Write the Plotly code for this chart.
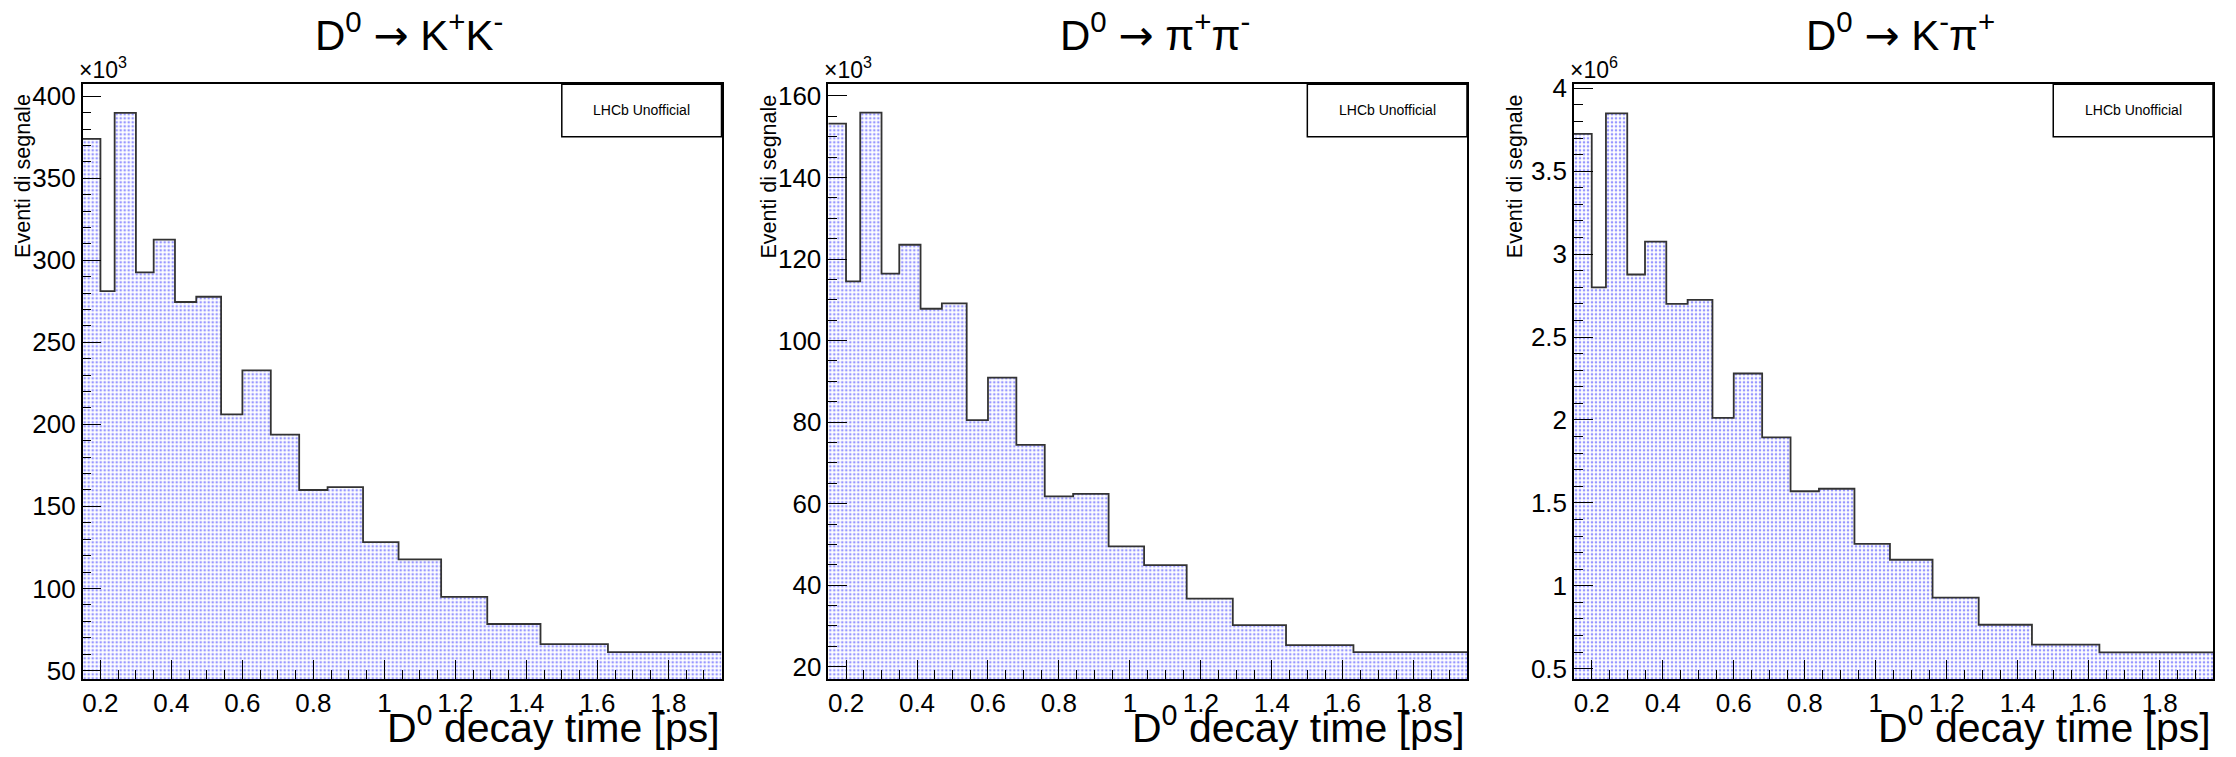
import plotly.graph_objects as go

# ---------------- data ----------------
bin_edges = [0.15, 0.20, 0.24, 0.30, 0.35, 0.41, 0.47, 0.54, 0.60, 0.68,
             0.76, 0.84, 0.94, 1.04, 1.16, 1.29, 1.44, 1.63, 1.95]

kk_counts_e3 = [374.1, 281.2, 389.9, 292.7, 312.6, 274.6, 277.8, 206.1, 232.9,
                193.8, 160.0, 161.8, 128.2, 117.7, 94.8, 78.3, 66.0, 61.1]
pipi_counts_e3 = [153.2, 114.5, 155.9, 116.4, 123.5, 107.8, 109.1, 80.5, 90.9,
                  74.4, 61.8, 62.4, 49.5, 44.9, 36.7, 30.2, 25.3, 23.6]
kpi_counts_e6 = [3.725, 2.800, 3.849, 2.877, 3.075, 2.700, 2.724, 2.013, 2.280,
                 1.895, 1.570, 1.585, 1.253, 1.157, 0.928, 0.765, 0.645, 0.598]

ARROW = "<span style=\"font-family:'DejaVu Sans'\">\u2192</span>"
panel_titles = ["D<sup>0</sup> " + ARROW + " K<sup>+</sup>K<sup>-</sup>",
                "D<sup>0</sup> " + ARROW + " \u03c0<sup>+</sup>\u03c0<sup>-</sup>",
                "D<sup>0</sup> " + ARROW + " K<sup>-</sup>\u03c0<sup>+</sup>"]
exponent_labels = ["\u00d710<sup>3</sup>", "\u00d710<sup>3</sup>", "\u00d710<sup>6</sup>"]
y_ranges = [[44.8, 407.3], [17.0, 162.85], [0.438, 4.024]]
y_major = [50, 20, 0.5]
y_minor = [10, 5, 0.1]
x_range = [0.15, 1.95]
x_title = "D<sup>0</sup> decay time [ps]"
y_title = "Eventi di segnale"
legend_text = "LHCb Unofficial"

series = [kk_counts_e3, pipi_counts_e3, kpi_counts_e6]

# ---------------- layout geometry (pixels) ----------------
W, H = 2236, 757
frame_px = [(82.7, 721.5), (828.3, 1467.0), (1574.0, 2213.0)]
top_px, bottom_px = 75.0, 683.3
ydom = [1 - bottom_px / H, 1 - top_px / H]

FONT = "Liberation Sans, Arial, Helvetica, sans-serif"

fig = go.Figure()
annotations = []
shapes = []

for i, vals in enumerate(series):
    sfx = "" if i == 0 else str(i + 1)
    xa, ya = "x" + sfx, "y" + sfx
    fig.add_trace(go.Scatter(
        x=bin_edges, y=vals + [vals[-1]],
        mode="lines",
        line=dict(shape="hv", color="#333333", width=1.8),
        fill="tozeroy",
        fillcolor="white",
        fillpattern=dict(shape=".", fgcolor="#3030ff", bgcolor="white",
                         size=4, solidity=0.34),
        xaxis=xa, yaxis=ya, showlegend=False, hoverinfo="skip"))

    l, r = frame_px[i]
    xdom = [l / W, r / W]
    axis_common = dict(showline=True, linecolor="black", linewidth=1.5,
                       mirror=True, ticks="inside", ticklen=19, tickwidth=1,
                       tickcolor="black", showgrid=False, zeroline=False,
                       tickfont=dict(family=FONT, size=26, color="black"))
    fig.update_layout(**{
        "xaxis" + sfx: dict(domain=xdom, range=x_range, anchor=ya,
                            dtick=0.2, tick0=0,
                            minor=dict(ticks="inside", ticklen=9, dtick=0.05,
                                       tick0=0, tickcolor="black", tickwidth=1),
                            **axis_common),
        "yaxis" + sfx: dict(domain=ydom, range=y_ranges[i], anchor=xa,
                            dtick=y_major[i], tick0=0,
                            minor=dict(ticks="inside", ticklen=9,
                                       dtick=y_minor[i], tick0=0,
                                       tickcolor="black", tickwidth=1),
                            **axis_common),
    })

    cx = ((l + r) / 2 + 7) / W
    # panel title
    annotations.append(dict(text=panel_titles[i], xref="paper", yref="paper",
                            x=cx, y=1 - 22 / H, xanchor="center", yanchor="middle",
                            showarrow=False,
                            font=dict(family=FONT, size=42, color="black")))
    # exponent label
    annotations.append(dict(text=exponent_labels[i], xref="paper", yref="paper",
                            x=(l - 6) / W, y=1 - 76 / H, xanchor="left",
                            yanchor="bottom", showarrow=False,
                            font=dict(family=FONT, size=23, color="black")))
    # y title (at top of axis)
    annotations.append(dict(text=y_title, xref="paper", yref="paper",
                            x=(l - 59) / W, y=1 - 169 / H, xanchor="center",
                            yanchor="middle", textangle=-90, showarrow=False,
                            font=dict(family=FONT, size=21.5, color="black")))
    # x title (right aligned)
    annotations.append(dict(text=x_title, xref="paper", yref="paper",
                            x=r / W, y=-0.003, xanchor="right",
                            yanchor="bottom", showarrow=False,
                            font=dict(family=FONT, size=41, color="black")))
    # legend box
    shapes.append(dict(type="rect", xref=xa + " domain", yref=ya + " domain",
                       x0=0.75, x1=1.0, y0=0.912, y1=1.0,
                       line=dict(color="black", width=1.5), fillcolor="white"))
    annotations.append(dict(text=legend_text, xref=xa + " domain",
                            yref=ya + " domain", x=0.875, y=0.956,
                            xanchor="center", yanchor="middle", showarrow=False,
                            font=dict(family=FONT, size=14, color="black")))

fig.update_layout(width=W, height=H, margin=dict(l=0, r=0, t=0, b=0),
                  paper_bgcolor="white", plot_bgcolor="white",
                  annotations=annotations, shapes=shapes, showlegend=False)

fig.write_html("out.html")
